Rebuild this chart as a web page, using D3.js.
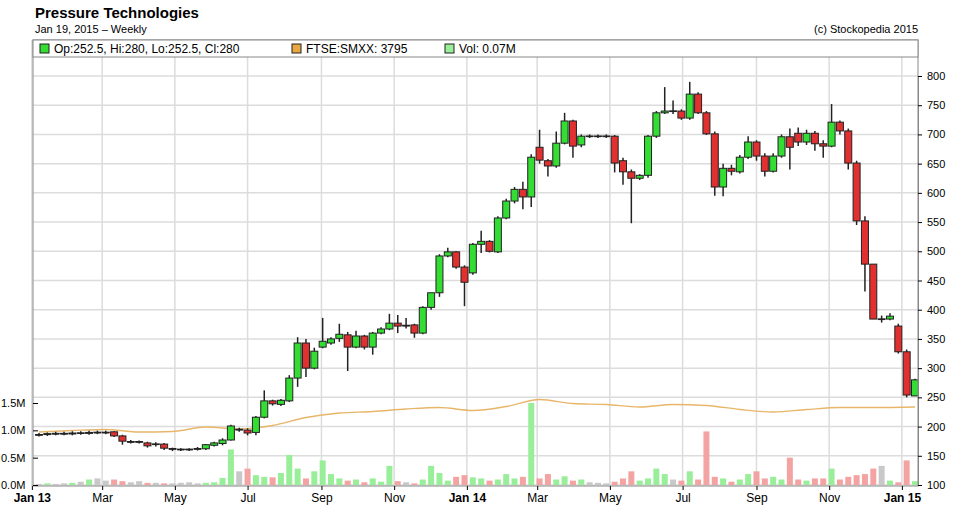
<!DOCTYPE html>
<html>
<head>
<meta charset="utf-8">
<script src="https://cdnjs.cloudflare.com/ajax/libs/d3/7.8.5/d3.min.js"></script>
<style>
  body { margin: 0; background: #fff; }
  svg { font-family: "Liberation Sans", Arial, sans-serif; }
  .grid line { stroke: #dcdcdc; stroke-width: 1.5; }
  .tick text { fill: #000; font-size: 11px; }
</style>
</head>
<body>
<div id="chart"></div>
<script>
(() => {
// weekly candles, Jan 2013 - Jan 2015 (pence)
const opens  = [186,187,188,188,188,189,189,190,190,191,184,174,174,172,170,170,162,161,161,162,162,168,171,177,195,194,190,216,244,238,244,283,343,300,336,343,351,357,336,355,336,360,367,377,373,374,360,404,429,492,499,473,463,512,517,499,557,586,606,593,678,655,646,685,723,682,697,697,697,697,655,636,625,630,697,737,740,740,728,769,737,701,610,642,636,661,687,663,637,663,696,702,687,702,684,680,721,706,651,552,478,384,384,372,328,252.5];
const closes = [186,188,188,188,189,189,190,190,190,184,175,174,174,167,170,163,162,161,161,162,169,172,177,201,195,189,216,244,239,245,283,343,300,329,346,350,358,336,355,336,360,367,377,372,373,360,404,429,492,499,473,447,512,517,500,557,586,606,593,661,656,646,685,723,680,697,697,697,697,651,636,625,630,697,737,740,740,728,769,737,701,610,642,637,661,687,663,637,663,696,678,687,702,684,680,721,706,651,552,478,384,384,389,328,254,280];
const highs  = [189,190,191,191,192,192,193,193,193,192,186,177,176,174,173,172,164,163,163,165,170,174,180,203,198,197,218,262,246,247,288,353,350,335,386,353,376,362,364,357,362,370,393,391,386,376,406,420,495,506,500,476,514,535,519,560,590,610,619,666,708,658,705,737,725,700,700,700,700,699,660,640,632,699,740,781,758,743,790,772,740,705,650,648,665,697,690,668,668,700,710,712,708,706,690,752,724,710,655,560,431,390,394,376,332,282];
const lows   = [183,184,185,185,185,186,186,187,187,182,169,171,171,164,166,160,158,158,158,159,160,166,168,176,191,185,185,214,236,235,242,268,285,298,334,340,345,295,334,332,323,358,365,360,368,352,358,400,422,490,470,406,460,497,498,497,555,582,572,576,650,628,643,683,660,678,694,694,694,635,614,548,622,626,694,735,735,725,725,735,699,595,594,630,633,658,655,628,635,660,640,680,682,672,660,678,700,640,545,431,384,378,382,325,250,252.5];
const volumes = [0.02,0.03,0.02,0.03,0.04,0.06,0.1,0.12,0.08,0.1,0.07,0.05,0.07,0.04,0.04,0.03,0.03,0.04,0.05,0.03,0.04,0.05,0.13,0.65,0.25,0.3,0.18,0.15,0.14,0.22,0.55,0.3,0.12,0.25,0.45,0.2,0.12,0.08,0.1,0.05,0.12,0.06,0.35,0.07,0.05,0.03,0.1,0.35,0.22,0.08,0.15,0.18,0.14,0.12,0.08,0.1,0.2,0.12,0.15,1.5,0.12,0.2,0.1,0.16,0.08,0.1,0.05,0.04,0.03,0.06,0.12,0.25,0.08,0.12,0.3,0.2,0.1,0.08,0.25,0.1,0.98,0.15,0.12,0.06,0.1,0.2,0.25,0.12,0.15,0.1,0.5,0.1,0.08,0.12,0.12,0.3,0.1,0.15,0.18,0.2,0.3,0.35,0.08,0.05,0.45,0.07];
// FTSE SmallCap index, every 4 weeks
const ftseWeeks = [0,4,8,12,16,20,24,28,32,36,40,44,48,52,56,60,64,68,72,76,80,84,88,92,96,100,105];
const ftseVals  = [3545,3560,3570,3545,3550,3595,3575,3610,3690,3735,3750,3775,3790,3760,3800,3870,3830,3820,3795,3820,3810,3770,3745,3770,3790,3790,3795];

const start = new Date(2013, 0, 7);
const weekDate = i => d3.timeWeek.offset(start, i);
const candles = opens.map((o, i) => ({date: weekDate(i), o, c: closes[i], h: highs[i], l: lows[i], v: volumes[i]}));

const W = 962, H = 524;
const pl = 33, pr = 918, pt = 40, pb = 486;
const svg = d3.select('#chart').append('svg').attr('width', W).attr('height', H);

const x = d3.scaleTime().domain([start, weekDate(105)]).range([39, 915]);
const y = d3.scaleLinear().domain([100, 800]).range([485, 76]);
const yVol = d3.scaleLinear().domain([0, 1.5]).range([485, 403]);
const yFtse = d3.scaleLinear().domain([3545, 3795]).range([432, 407]);

// grid
const months = d3.timeMonth.every(2).range(new Date(2013, 0, 1), new Date(2015, 1, 1));
svg.append('g').attr('class', 'grid')
  .selectAll('line').data(months).join('line')
    .attr('x1', d => x(d)).attr('x2', d => x(d)).attr('y1', pt).attr('y2', pb);
svg.append('g').attr('class', 'grid')
  .selectAll('line').data(d3.range(100, 801, 50)).join('line')
    .attr('x1', pl).attr('x2', pr).attr('y1', d => y(d)).attr('y2', d => y(d));

// volume bars
const colFor = d => d.c > d.o ? '#99ee99' : d.c < d.o ? '#f4a3a3' : '#c8c8c8';
svg.append('g').selectAll('rect').data(candles).join('rect')
  .attr('x', d => x(d.date) - 3).attr('width', 6)
  .attr('y', d => yVol(d.v)).attr('height', d => yVol(0) - yVol(d.v))
  .attr('fill', colFor);

// ftse line
svg.append('path')
  .datum(ftseWeeks.map((w, i) => ({date: weekDate(w), v: ftseVals[i]})))
  .attr('fill', 'none').attr('stroke', '#e8b66a').attr('stroke-width', 1.3)
  .attr('d', d3.line().x(d => x(d.date)).y(d => yFtse(d.v)).curve(d3.curveMonotoneX));

// candles
const g = svg.append('g');
g.selectAll('line').data(candles).join('line')
  .attr('x1', d => x(d.date)).attr('x2', d => x(d.date))
  .attr('y1', d => y(d.h)).attr('y2', d => y(d.l))
  .attr('stroke', '#222').attr('stroke-width', 1.5);
g.selectAll('rect').data(candles).join('rect')
  .attr('x', d => x(d.date) - 3.5).attr('width', 7)
  .attr('y', d => y(Math.max(d.o, d.c)))
  .attr('height', d => Math.max(1, Math.abs(y(d.o) - y(d.c))))
  .attr('fill', d => d.c > d.o ? '#33dd33' : d.c < d.o ? '#e03030' : '#222')
  .attr('stroke', d => d.c === d.o ? 'none' : '#222').attr('stroke-width', 1);
// doji crossbars
g.selectAll('.doji').data(candles.filter(d => d.c === d.o)).join('line')
  .attr('x1', d => x(d.date) - 4).attr('x2', d => x(d.date) + 4)
  .attr('y1', d => y(d.o)).attr('y2', d => y(d.o))
  .attr('stroke', '#222').attr('stroke-width', 1.5);

// frame
svg.append('rect').attr('x', pl).attr('y', pt).attr('width', pr - pl).attr('height', pb - pt)
  .attr('fill', 'none').attr('stroke', '#888');

// axes
const yAxis = svg.append('g').attr('transform', `translate(${pr},0)`)
  .call(d3.axisRight(y).tickValues(d3.range(100, 801, 50)).tickSize(4).tickPadding(5));
yAxis.select('.domain').attr('stroke', '#888');
const vAxis = svg.append('g').attr('transform', `translate(${pl},0)`)
  .call(d3.axisRight(yVol).tickValues([0, 0.5, 1, 1.5]).tickSize(5).tickFormat(d => d.toFixed(1) + 'M'));
vAxis.select('.domain').remove();
vAxis.selectAll('text').attr('x', -32).attr('text-anchor', 'start');
const xAxis = svg.append('g').attr('transform', `translate(0,${pb})`)
  .call(d3.axisBottom(x).tickValues(months).tickSize(4).tickPadding(3)
    .tickFormat(d => d.getMonth() === 0 ? d3.timeFormat('Jan %y')(d) : d3.timeFormat('%b')(d)));
xAxis.select('.domain').remove();
xAxis.selectAll('text').style('font-size', '12px')
  .attr('font-weight', d => d.getMonth() === 0 ? 'bold' : 'normal');

// titles
svg.append('text').attr('x', 35).attr('y', 18).attr('font-size', 15).attr('font-weight', 'bold').text('Pressure Technologies');
svg.append('text').attr('x', 35).attr('y', 33).attr('font-size', 11).text('Jan 19, 2015 \u2013 Weekly');
svg.append('text').attr('x', pr).attr('y', 33).attr('font-size', 11).attr('text-anchor', 'end').text('(c) Stockopedia 2015');

// legend
svg.append('rect').attr('x', pl).attr('y', pt).attr('width', pr - pl).attr('height', 17).attr('fill', '#fff').attr('stroke', '#888');
const legend = [
  {x: 40, col: '#33dd33', text: 'Op:252.5, Hi:280, Lo:252.5, Cl:280'},
  {x: 292, col: '#e8a840', text: 'FTSE:SMXX: 3795'},
  {x: 445, col: '#99ee99', text: 'Vol: 0.07M'}
];
const lg = svg.append('g').selectAll('g').data(legend).join('g').attr('transform', d => `translate(${d.x},${pt + 4})`);
lg.append('rect').attr('width', 9).attr('height', 9).attr('fill', d => d.col).attr('stroke', '#222');
lg.append('text').attr('x', 14).attr('y', 9).attr('font-size', 12).text(d => d.text);
})();
</script>
</body>
</html>
